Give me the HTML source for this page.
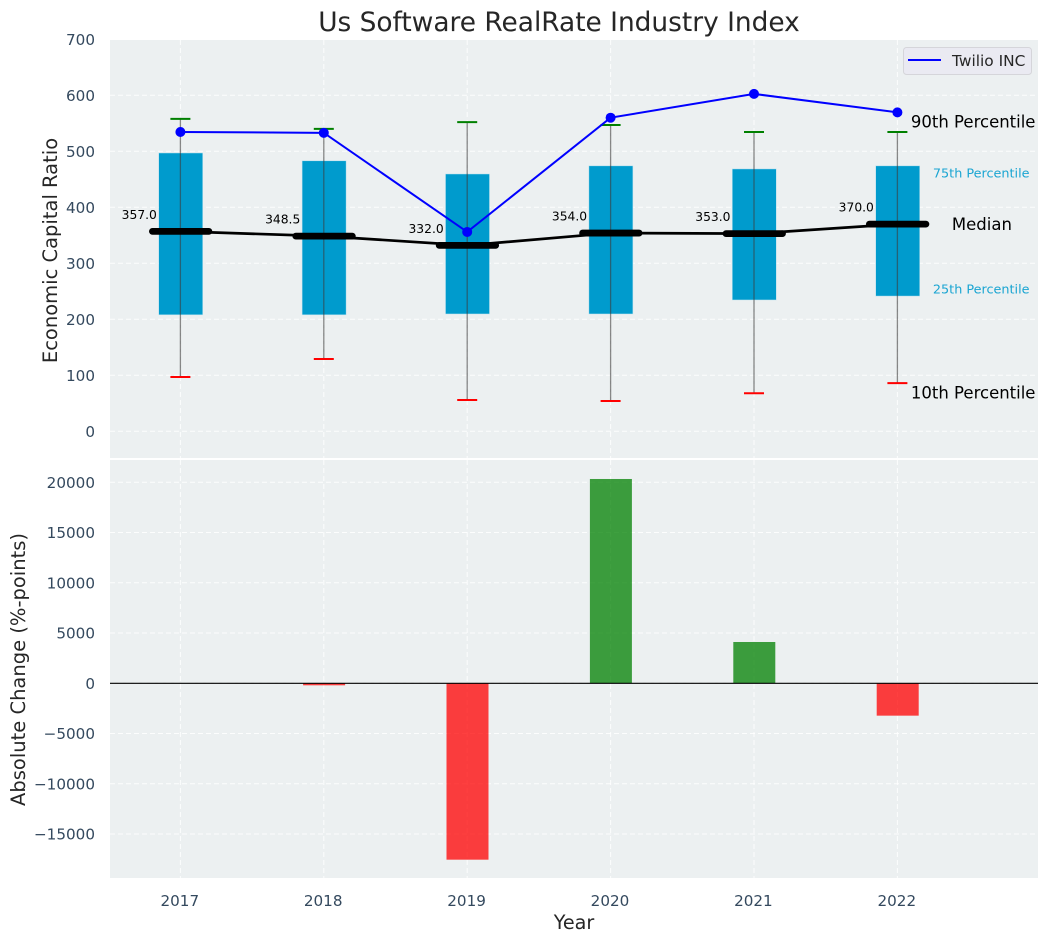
<!DOCTYPE html>
<html lang="en">
<head>
<meta charset="utf-8">
<title>Us Software RealRate Industry Index</title>
<style>
html,body{margin:0;padding:0;background:#fff;width:1048px;height:942px;overflow:hidden}
svg{display:block;font-family:"DejaVu Sans","Liberation Sans",sans-serif}
</style>
</head>
<body>
<svg id="chart" xmlns="http://www.w3.org/2000/svg" width="1048" height="942" viewBox="0 0 1048 942">
  <rect x="110" y="40" width="928" height="418" fill="#ecf0f1"/>
  <rect x="110" y="460" width="928" height="418" fill="#ecf0f1"/>
  <g id="grid"></g>
  <g id="ticks"></g>
  <g id="marks"></g>
  <text x="559" y="31" text-anchor="middle" font-size="26.4" fill="#262626">Us Software RealRate Industry Index</text>
  <text transform="translate(57,250.5) rotate(-90)" text-anchor="middle" font-size="19.5" fill="#262626">Economic Capital Ratio</text>
  <text transform="translate(25,669.5) rotate(-90)" text-anchor="middle" font-size="19.5" fill="#262626">Absolute Change (%-points)</text>
  <text x="574" y="929" text-anchor="middle" font-size="19.2" fill="#262626">Year</text>
  <g>
    <rect x="903.5" y="47.5" width="128" height="27" rx="3" fill="#eaeaf2" stroke="#d5d5da" stroke-width="1"/>
    <line x1="908" y1="60" x2="941" y2="60" stroke="#0000ff" stroke-width="2"/>
    <text x="952" y="66" font-size="15.4" fill="#262626">Twilio INC</text>
  </g>
</svg>
<script>
const years = [2017, 2018, 2019, 2020, 2021, 2022];
const p10 = [97, 129, 56, 54, 68, 86];
const p25 = [208, 208, 209.5, 209.5, 234.5, 241.5];
const medians = [357.0, 348.5, 332.0, 354.0, 353.0, 370.0];
const p75 = [497, 483, 459.5, 474, 468.5, 474];
const p90 = [558, 540, 552, 547, 534.5, 534.5];
const twilio = [534.5, 533, 356, 560, 602.5, 569.5];
const changes = [0, -200, -17550, 20330, 4110, -3220];
const topTicks = [0, 100, 200, 300, 400, 500, 600, 700];
const bottomTicks = [-15000, -10000, -5000, 0, 5000, 10000, 15000, 20000];

const NS = 'http://www.w3.org/2000/svg';
const xAt = v => 180.4 + (v - 2017) * 143.4;
const yTop = v => 431.3 - v * 0.56;
const yBot = v => 683.3 - v * 0.01005;
const gridG = document.getElementById('grid');
const ticksG = document.getElementById('ticks');
const marksG = document.getElementById('marks');

function make(tag, parent, attrs, text) {
  const el = document.createElementNS(NS, tag);
  for (const k in attrs) el.setAttribute(k, attrs[k]);
  if (text !== undefined) el.textContent = text;
  parent.appendChild(el);
  return el;
}
function fmt(v) { return String(v).replace('-', '\u2212'); }

const gridStyle = { stroke: '#ffffff', 'stroke-width': 1, 'stroke-dasharray': '5 3', 'stroke-opacity': 0.85, fill: 'none' };
const tickFont = 15.2;

topTicks.forEach(t => {
  const g = make('line', gridG, Object.assign({ x1: 110, x2: 1038, y1: yTop(t), y2: yTop(t) }, gridStyle));
  
  
  const l = make('text', ticksG, { x: 95, y: yTop(t) + 5.5, 'text-anchor': 'end', 'font-size': tickFont, fill: '#34495e' }, fmt(t));
  
  
});
bottomTicks.forEach(t => {
  const g = make('line', gridG, Object.assign({ x1: 110, x2: 1038, y1: yBot(t), y2: yBot(t) }, gridStyle));
  
  
  const l = make('text', ticksG, { x: 95, y: yBot(t) + 5.5, 'text-anchor': 'end', 'font-size': tickFont, fill: '#34495e' }, fmt(t));
  
  
});
years.forEach(y => {
  const a = make('line', gridG, Object.assign({ x1: xAt(y), x2: xAt(y), y1: 40, y2: 458 }, gridStyle));
  
  
  const b = make('line', gridG, Object.assign({ x1: xAt(y), x2: xAt(y), y1: 460, y2: 878 }, gridStyle));
  
  
  const l = make('text', ticksG, { x: xAt(y) - 0.6, y: 906, 'text-anchor': 'middle', 'font-size': tickFont, fill: '#34495e' }, String(y));
  
  
});

years.forEach((y, i) => {
  const cx = xAt(y);
  const box = make('rect', marksG, { x: cx + 0.3 - 22, width: 44, y: yTop(p75[i]), height: yTop(p25[i]) - yTop(p75[i]), fill: '#009bcd', stroke: '#bfe3ef', 'stroke-width': 0.5 });
  
  
  const w = make('line', marksG, { x1: cx, x2: cx, y1: yTop(p90[i]), y2: yTop(p10[i]), stroke: '#3c3c3c', 'stroke-opacity': 0.6, 'stroke-width': 1.3 });
  
  
  const hi = make('line', marksG, { x1: cx - 10, x2: cx + 10, y1: yTop(p90[i]), y2: yTop(p90[i]), stroke: '#008000', 'stroke-width': 2 });
  
  
  const lo = make('line', marksG, { x1: cx - 10, x2: cx + 10, y1: yTop(p10[i]), y2: yTop(p10[i]), stroke: '#ff0000', 'stroke-width': 2 });
  
  
});

const medLine = make('polyline', marksG, { points: years.map((y, i) => xAt(y) + ',' + yTop(medians[i])).join(' '), fill: 'none', stroke: '#000000', 'stroke-width': 2.7 });



years.forEach((y, i) => {
  const cx = xAt(y);
  const m = make('line', marksG, { x1: cx - 28, x2: cx + 28.5, y1: yTop(medians[i]), y2: yTop(medians[i]), stroke: '#000000', 'stroke-width': 6.8, 'stroke-linecap': 'round' });
  
  
  const t = make('text', marksG, { x: cx - 23.5, y: yTop(medians[i]) - 12.5, 'text-anchor': 'end', 'font-size': 12.3, fill: '#000000' }, medians[i].toFixed(1));
  
  
});

const twLine = make('polyline', marksG, { points: years.map((y, i) => xAt(y) + ',' + yTop(twilio[i])).join(' '), fill: 'none', stroke: '#0000ff', 'stroke-width': 2 });


years.forEach((y, i) => {
  const c = make('circle', marksG, { cx: xAt(y), cy: yTop(twilio[i]), r: 5, fill: '#0000ff' });
  
  
});

years.forEach((y, i) => {
  if (changes[i] === 0) return;
  const y0 = yBot(0), y1 = yBot(changes[i]);
  const r = make('rect', marksG, { x: xAt(y) + 0.3 - 21, width: 42, y: Math.min(y0, y1), height: Math.abs(y1 - y0), fill: changes[i] > 0 ? '#008000' : '#ff0000', 'fill-opacity': 0.75 });
  
  
});
const zero = make('line', marksG, { x1: 110, x2: 1038, y1: yBot(0), y2: yBot(0), stroke: '#000000', 'stroke-width': 1.2 });



const last = years.length - 1;
const lastX = xAt(years[last]);
const a90 = make('text', marksG, { x: lastX + 13.5, y: yTop(p90[last]) - 4.5, 'font-size': 16.5, fill: '#000000' }, '90th Percentile');


const a75 = make('text', marksG, { x: lastX + 35.5, y: yTop(p75[last]) + 11.5, 'font-size': 12.8, fill: '#1aa5d2' }, '75th Percentile');


const aMed = make('text', marksG, { x: lastX + 54.5, y: yTop(medians[last]) + 6, 'font-size': 16.5, fill: '#000000' }, 'Median');


const a25 = make('text', marksG, { x: lastX + 35.5, y: yTop(p25[last]) - 2.5, 'font-size': 12.8, fill: '#1aa5d2' }, '25th Percentile');


const a10 = make('text', marksG, { x: lastX + 13.5, y: yTop(p10[last]) + 15.5, 'font-size': 16.5, fill: '#000000' }, '10th Percentile');


</script>
</body>
</html>
